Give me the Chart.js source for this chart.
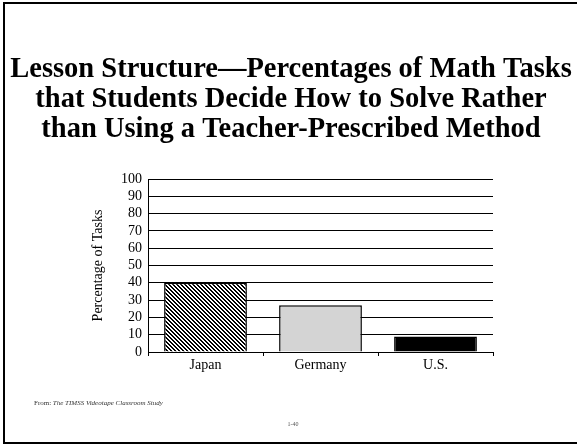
<!DOCTYPE html>
<html>
<head>
<meta charset="utf-8">
<script src="https://cdn.jsdelivr.net/npm/chart.js@4.4.1/dist/chart.umd.min.js"></script>
<style>
  html, body { margin: 0; padding: 0; background: #fff; }
  canvas { display: block; }
</style>
</head>
<body>
<canvas id="c" width="577" height="445"></canvas>
<script>
// Slide heading, one entry per line
const titleLines = [
  'Lesson Structure\u2014Percentages of Math Tasks',
  'that Students Decide How to Solve Rather',
  'than Using a Teacher-Prescribed Method'
];
// Countries and the share of tasks (%)
const categories = ['Japan', 'Germany', 'U.S.'];
const percentages = [40, 27, 9];
const yTicks = [0, 10, 20, 30, 40, 50, 60, 70, 80, 90, 100];
const axisTitle = 'Percentage of Tasks';
const sourcePrefix = 'From: ';
const sourceTitle = 'The TIMSS Videotape Classroom Study';
const pageNumber = '1-40';

const SERIF = '"Liberation Serif", "Times New Roman", serif';

// Back-slash hatching used for the first bar
function hatch() {
  const t = document.createElement('canvas');
  t.width = 4; t.height = 4;
  const g = t.getContext('2d');
  g.fillStyle = '#fff';
  g.fillRect(0, 0, 4, 4);
  g.fillStyle = '#000';
  for (let i = 0; i < 4; i++) {
    g.fillRect(i, i, 1, 1);
    g.fillRect((i + 1) % 4, i, 1, 1);
  }
  return g.createPattern(t, 'repeat');
}

const slideDecor = {
  id: 'slideDecor',
  beforeDraw(chart) {
    const ctx = chart.ctx;
    ctx.save();
    ctx.fillStyle = '#fff';
    ctx.fillRect(0, 0, chart.width, chart.height);
    ctx.restore();
  },
  afterDraw(chart) {
    const ctx = chart.ctx;
    ctx.save();
    // slide frame
    ctx.strokeStyle = '#000';
    ctx.lineWidth = 2;
    ctx.beginPath();
    ctx.moveTo(chart.width + 5, 3);
    ctx.lineTo(4, 3);
    ctx.lineTo(4, 443);
    ctx.lineTo(chart.width + 5, 443);
    ctx.stroke();

    // heading
    ctx.fillStyle = '#000';
    ctx.textAlign = 'center';
    ctx.textBaseline = 'alphabetic';
    ctx.font = 'bold 28.5px ' + SERIF;
    const baselines = [77, 107, 137];
    titleLines.forEach((line, i) => ctx.fillText(line, 291, baselines[i]));

    // source note
    ctx.textAlign = 'left';
    ctx.textBaseline = 'middle';
    ctx.fillStyle = '#333';
    ctx.font = '7px ' + SERIF;
    ctx.fillText(sourcePrefix, 34, 403);
    const w = ctx.measureText(sourcePrefix).width;
    ctx.font = 'italic 7px ' + SERIF;
    ctx.fillText(sourceTitle, 34 + w, 403);

    // page number
    ctx.textAlign = 'center';
    ctx.fillStyle = '#555';
    ctx.font = '6px ' + SERIF;
    ctx.fillText(pageNumber, 293, 424);
    ctx.restore();
  }
};

const ctx = document.getElementById('c').getContext('2d');
new Chart(ctx, {
  type: 'bar',
  data: {
    labels: categories,
    datasets: [{
      data: percentages,
      backgroundColor: [hatch(), '#d4d4d4', '#000'],
      borderColor: '#000',
      borderWidth: 1.5,
      barPercentage: 0.72,
      categoryPercentage: 1
    }]
  },
  options: {
    responsive: false,
    animation: false,
    devicePixelRatio: 1,
    layout: { padding: { left: 86, right: 84, top: 179, bottom: 71 } },
    plugins: {
      legend: { display: false },
      tooltip: { enabled: false },
      title: { display: false }
    },
    scales: {
      y: {
        min: 0,
        max: 100,
        afterBuildTicks: s => { s.ticks = yTicks.map(v => ({ value: v })); },
        afterFit: s => { s.width = 62; },
        ticks: {
          autoSkip: false,
          color: '#000',
          padding: 6,
          font: { family: SERIF, size: 14, lineHeight: 1 }
        },
        grid: { color: '#000', lineWidth: 1, drawTicks: false },
        border: { color: '#000', width: 1 },
        title: {
          display: true,
          text: axisTitle,
          color: '#000',
          font: { family: SERIF, size: 14 },
          padding: { top: 4, bottom: 4 }
        }
      },
      x: {
        afterFit: s => { s.height = 22; },
        ticks: {
          color: '#000',
          padding: 1,
          font: { family: SERIF, size: 14 }
        },
        grid: { offset: true, drawOnChartArea: false, color: '#000', tickLength: 4 },
        border: { color: '#000', width: 1 }
      }
    }
  },
  plugins: [slideDecor]
});
</script>
</body>
</html>
